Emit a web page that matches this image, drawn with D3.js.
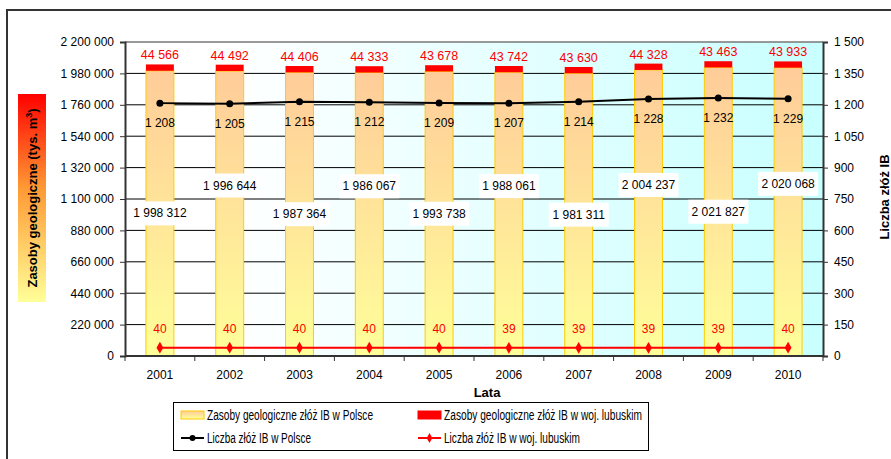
<!DOCTYPE html>
<html>
<head>
<meta charset="utf-8">
<script src="https://cdn.jsdelivr.net/npm/d3@7"></script>
<style>
  body { margin: 0; background: #fff; }
  svg { display: block; font-family: "Liberation Sans", Arial, sans-serif; }
</style>
</head>
<body>
<div id="chart"></div>
<script>
const years = ['2001', '2002', '2003', '2004', '2005', '2006', '2007', '2008', '2009', '2010'];
const zasobyPolska = [1998312, 1996644, 1987364, 1986067, 1993738, 1988061, 1981311, 2004237, 2021827, 2020068];
const zasobyLubuskie = [44566, 44492, 44406, 44333, 43678, 43742, 43630, 44328, 43463, 43933];
const liczbaPolska = [1208, 1205, 1215, 1212, 1209, 1207, 1214, 1228, 1232, 1229];
const liczbaLubuskie = [40, 40, 40, 40, 40, 39, 39, 39, 39, 40];
const leftTicks = [0, 220000, 440000, 660000, 880000, 1100000, 1320000, 1540000, 1760000, 1980000, 2200000];
const rightTicks = [0, 150, 300, 450, 600, 750, 900, 1050, 1200, 1350, 1500];

const width = 891;
const height = 459;
const plot = {left: 125, right: 823, top: 42, bottom: 356};

const pl = d3.formatLocale({decimal: ',', thousands: ' ', grouping: [3], currency: ['', '']});
const fmt = pl.format(',d');

const svg = d3.select('#chart').append('svg')
    .attr('width', width)
    .attr('height', height);

const defs = svg.append('defs');

const bg = defs.append('linearGradient').attr('id', 'bgGrad')
    .attr('x1', 0).attr('x2', 1).attr('y1', 0).attr('y2', 0);
bg.append('stop').attr('offset', '0%').attr('stop-color', '#ffffff');
bg.append('stop').attr('offset', '15%').attr('stop-color', '#ffffff');
bg.append('stop').attr('offset', '100%').attr('stop-color', '#c8ffff');

const barGrad = defs.append('linearGradient').attr('id', 'barGrad')
    .attr('x1', 0).attr('x2', 0).attr('y1', 0).attr('y2', 1);
barGrad.append('stop').attr('offset', '0%').attr('stop-color', '#ffcc99');
barGrad.append('stop').attr('offset', '100%').attr('stop-color', '#ffff99');

const titleGrad = defs.append('linearGradient').attr('id', 'titleGrad')
    .attr('x1', 0).attr('x2', 0).attr('y1', 0).attr('y2', 1);
titleGrad.append('stop').attr('offset', '0%').attr('stop-color', '#ff0000');
titleGrad.append('stop').attr('offset', '45%').attr('stop-color', '#ff9933');
titleGrad.append('stop').attr('offset', '100%').attr('stop-color', '#ffff99');

// outer chart border
svg.append('rect')
    .attr('x', 7).attr('y', 10)
    .attr('width', 920).attr('height', 480)
    .attr('fill', 'none')
    .attr('stroke', '#333')
    .attr('stroke-width', 2);

const x = d3.scaleBand()
    .domain(years)
    .range([plot.left, plot.right])
    .paddingInner(0.6)
    .paddingOuter(0.3);

const yL = d3.scaleLinear().domain([0, 2200000]).range([plot.bottom, plot.top]);
const yR = d3.scaleLinear().domain([0, 1500]).range([plot.bottom, plot.top]);

// plot area background
svg.append('rect')
    .attr('x', plot.left).attr('y', plot.top)
    .attr('width', plot.right - plot.left)
    .attr('height', plot.bottom - plot.top)
    .attr('fill', 'url(#bgGrad)');

// gridlines
svg.append('g')
    .selectAll('line')
    .data(leftTicks.slice(1, -1))
    .enter().append('line')
    .attr('x1', plot.left).attr('x2', plot.right)
    .attr('y1', d => yL(d)).attr('y2', d => yL(d))
    .attr('stroke', '#000')
    .attr('stroke-width', 1);

svg.append('line')
    .attr('x1', plot.left).attr('x2', plot.right)
    .attr('y1', plot.top).attr('y2', plot.top)
    .attr('stroke', '#777')
    .attr('stroke-width', 1.5);

// bars
const cx = d => x(d) + x.bandwidth() / 2;

svg.append('g')
    .selectAll('rect')
    .data(years)
    .enter().append('rect')
    .attr('x', d => x(d))
    .attr('y', (d, i) => yL(zasobyPolska[i]))
    .attr('width', x.bandwidth())
    .attr('height', (d, i) => yL(0) - yL(zasobyPolska[i]))
    .attr('fill', 'url(#barGrad)')
    .attr('stroke', '#ffcc00')
    .attr('stroke-width', 1);

svg.append('g')
    .selectAll('rect')
    .data(years)
    .enter().append('rect')
    .attr('x', d => x(d))
    .attr('y', (d, i) => yL(zasobyPolska[i] + zasobyLubuskie[i]))
    .attr('width', x.bandwidth())
    .attr('height', (d, i) => yL(zasobyPolska[i]) - yL(zasobyPolska[i] + zasobyLubuskie[i]))
    .attr('fill', '#ff0000');

// axes
const leftAxis = svg.append('g')
    .attr('transform', 'translate(' + plot.left + ',0)')
    .call(d3.axisLeft(yL).tickValues(leftTicks).tickFormat(fmt).tickSize(5).tickPadding(6));

const rightAxis = svg.append('g')
    .attr('transform', 'translate(' + plot.right + ',0)')
    .call(d3.axisRight(yR).tickValues(rightTicks).tickFormat(fmt).tickSize(5).tickPadding(6));

const bottomAxis = svg.append('g')
    .attr('transform', 'translate(0,' + plot.bottom + ')')
    .call(d3.axisBottom(x).tickSize(0).tickPadding(14));

svg.append('g')
    .selectAll('line')
    .data(d3.range(years.length + 1))
    .enter().append('line')
    .attr('x1', i => plot.left + i * x.step()).attr('x2', i => plot.left + i * x.step())
    .attr('y1', plot.bottom).attr('y2', plot.bottom + 5)
    .attr('stroke', '#333');

[leftAxis, rightAxis, bottomAxis].forEach(function(a) {
    a.select('.domain').attr('stroke', '#333').attr('stroke-width', 2);
    a.selectAll('.tick line').attr('stroke', '#333');
    a.selectAll('.tick text').attr('font-size', 12).attr('fill', '#000')
        .attr('font-family', '"Liberation Sans", Arial, sans-serif');
});
bottomAxis.select('.domain').attr('d', 'M' + plot.left + ',0H' + plot.right);

// lines
const lineP = d3.line().x((d, i) => cx(years[i])).y(d => yR(d));

svg.append('path')
    .datum(liczbaPolska)
    .attr('d', lineP)
    .attr('fill', 'none')
    .attr('stroke', '#000')
    .attr('stroke-width', 2);

svg.append('g')
    .selectAll('circle')
    .data(liczbaPolska)
    .enter().append('circle')
    .attr('cx', (d, i) => cx(years[i]))
    .attr('cy', d => yR(d))
    .attr('r', 3.5)
    .attr('fill', '#000');

svg.append('path')
    .datum(liczbaLubuskie)
    .attr('d', lineP)
    .attr('fill', 'none')
    .attr('stroke', '#ff0000')
    .attr('stroke-width', 2);

const diamond = d3.symbol().type(d3.symbolDiamond).size(40);
svg.append('g')
    .selectAll('path')
    .data(liczbaLubuskie)
    .enter().append('path')
    .attr('d', diamond)
    .attr('transform', (d, i) => 'translate(' + cx(years[i]) + ',' + yR(d) + ')')
    .attr('fill', '#ff0000');

// data labels
const labels = svg.append('g').attr('font-size', 12).attr('text-anchor', 'middle');

labels.selectAll('.lub')
    .data(zasobyLubuskie)
    .enter().append('text')
    .attr('x', (d, i) => cx(years[i]))
    .attr('y', (d, i) => yL(zasobyPolska[i] + d) - 5)
    .attr('font-size', 12.5)
    .attr('fill', '#ff0000')
    .text(d => fmt(d));

labels.selectAll('.lp')
    .data(liczbaPolska)
    .enter().append('text')
    .attr('x', (d, i) => cx(years[i]))
    .attr('y', d => yR(d) + 24)
    .attr('fill', '#000')
    .text(d => fmt(d));

labels.selectAll('.ll')
    .data(liczbaLubuskie)
    .enter().append('text')
    .attr('x', (d, i) => cx(years[i]))
    .attr('y', d => yR(d) - 15)
    .attr('fill', '#ff0000')
    .text(d => fmt(d));

const boxes = labels.selectAll('.zp')
    .data(zasobyPolska)
    .enter().append('g')
    .attr('transform', (d, i) => 'translate(' + cx(years[i]) + ',' + (yL(d / 2) - (i % 2 ? 28 : 0)) + ')');
boxes.append('rect')
    .attr('x', -30).attr('y', -12)
    .attr('width', 60).attr('height', 24)
    .attr('fill', '#fff');
boxes.append('text')
    .attr('y', 4)
    .attr('fill', '#000')
    .text(d => fmt(d));

// axis titles
svg.append('rect')
    .attr('x', 18).attr('y', 94)
    .attr('width', 28).attr('height', 208)
    .attr('fill', 'url(#titleGrad)');

const lt = svg.append('text')
    .attr('transform', 'translate(37,198) rotate(-90)')
    .attr('text-anchor', 'middle')
    .attr('font-size', 13)
    .attr('font-weight', 'bold')
    .text('Zasoby geologiczne (tys. m');
lt.append('tspan').attr('baseline-shift', 'super').attr('font-size', 9).text('3');
lt.append('tspan').text(')');

svg.append('text')
    .attr('transform', 'translate(889,197) rotate(-90)')
    .attr('text-anchor', 'middle')
    .attr('font-size', 13)
    .attr('font-weight', 'bold')
    .text('Liczba złóż IB');

svg.append('text')
    .attr('x', 487).attr('y', 397)
    .attr('text-anchor', 'middle')
    .attr('font-size', 13)
    .attr('font-weight', 'bold')
    .text('Lata');

// legend
const legend = svg.append('g');
legend.append('rect')
    .attr('x', 173.5).attr('y', 402.5)
    .attr('width', 475).attr('height', 48)
    .attr('fill', '#fff')
    .attr('stroke', '#000');

const legendItems = [
    {label: 'Zasoby geologiczne złóż IB w Polsce', type: 'bar', fill: 'url(#barGrad)', stroke: '#ffcc00', len: 166},
    {label: 'Zasoby geologiczne złóż IB w woj. lubuskim', type: 'bar', fill: '#ff0000', stroke: '#ff0000', len: 198},
    {label: 'Liczba złóż IB w Polsce', type: 'line', color: '#000', marker: 'circle', len: 104},
    {label: 'Liczba złóż IB w woj. lubuskim', type: 'line', color: '#ff0000', marker: 'diamond', len: 136}
];

const li = legend.selectAll('.item')
    .data(legendItems)
    .enter().append('g')
    .attr('transform', (d, i) => 'translate(' + (i % 2 ? 418 : 181) + ',' + (i < 2 ? 415 : 438) + ')');

li.filter(d => d.type === 'bar').append('rect')
    .attr('x', 0).attr('y', -4)
    .attr('width', 23).attr('height', 8)
    .attr('fill', d => d.fill)
    .attr('stroke', d => d.stroke);

li.filter(d => d.type === 'line').append('line')
    .attr('x1', 0).attr('x2', 23)
    .attr('stroke', d => d.color)
    .attr('stroke-width', 2);
li.filter(d => d.marker === 'circle').append('circle')
    .attr('cx', 11.5).attr('r', 3).attr('fill', '#000');
li.filter(d => d.marker === 'diamond').append('path')
    .attr('d', d3.symbol().type(d3.symbolDiamond).size(28))
    .attr('transform', 'translate(11.5,0)')
    .attr('fill', '#ff0000');

li.append('text')
    .attr('x', 26).attr('y', 5)
    .attr('font-size', 14)
    .attr('textLength', d => d.len)
    .attr('lengthAdjust', 'spacingAndGlyphs')
    .text(d => d.label);
</script>
</body>
</html>
